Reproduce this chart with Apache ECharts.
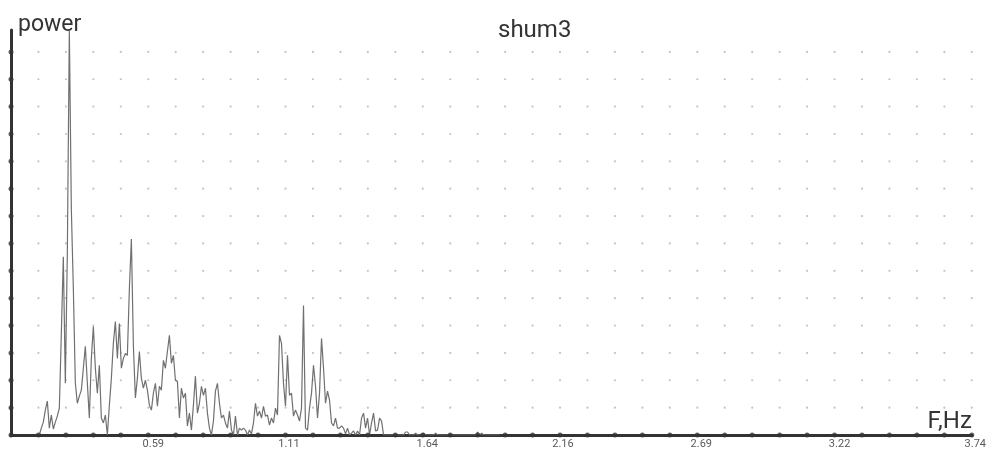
<!DOCTYPE html>
<html>
<head>
<meta charset="utf-8">
<title>shum3</title>
<script src="https://cdn.jsdelivr.net/npm/echarts@6/dist/echarts.min.js"></script>
<style>
  html, body { margin: 0; padding: 0; background: #ffffff; }
  #chart { width: 989px; height: 450px; }
</style>
</head>
<body>
<div id="chart"></div>
<script>
// Power spectrum of the "shum3" recording.
var chartTitle = 'shum3';
var xAxisName = 'F,Hz';
var yAxisName = 'power';

// Frequency axis range and the tick labels printed under it (Hz)
var freqMin = 0.06;
var freqMax = 3.742;
var tickValues = [0.59, 1.11, 1.64, 2.16, 2.69, 3.22, 3.74];

// Spectrum bins: first bin frequency and bin width (Hz)
var freqStart = 0.1685;
var freqStep = 0.00767;

// Power per bin (grid-row units)
var powerValues = [
  0, 0.25, 0.47, 0.91, 1.24, 0.25, 0.73, 0.22, 0.47, 0.69,
  0.98, 3.71, 6.51, 1.89, 6.62, 14.8, 8.25, 5.35, 1.89, 1.16,
  1.42, 1.64, 2.44, 3.24, 1.89, 0.62, 2.80, 3.96, 2.44, 1.53,
  2.55, 0.62, 0.44, 0.73, 0, 1.09, 2.07, 3.35, 4.15, 2.80,
  4.07, 2.44, 2.80, 2.98, 2.91, 5.35, 7.16, 3.27, 1.35, 2.07,
  3.05, 2.07, 1.71, 2.00, 1.64, 1.09, 0.91, 1.53, 1.89, 1.05,
  1.78, 1.64, 2.73, 2.44, 3.05, 3.64, 2.62, 2.91, 2.00, 1.96,
  0.62, 1.71, 1.35, 1.53, 0.33, 0.80, 0.18, 1.09, 2.15, 0.80,
  1.16, 1.78, 1.45, 1.71, 0.80, 0.25, 0, 0.51, 1.60, 1.89,
  1.16, 0.62, 0.73, 0.44, 0.25, 0.87, 0.18, 0, 0.69, 0,
  0.25, 0.18, 0.25, 0.18, 0, 0.18, 0.04, 0.44, 1.16, 0.69,
  0.87, 0.62, 1.05, 0.69, 0.73, 0.36, 0.62, 0.44, 0.98, 0.73,
  3.64, 3.35, 1.89, 1.05, 2.91, 1.45, 1.53, 0.69, 0.91, 0.73,
  0.51, 0.98, 4.73, 0.25, 0.18, 0.98, 1.53, 2.55, 1.78, 0.62,
  1.53, 3.53, 2.44, 1.16, 1.60, 1.27, 0.44, 0.33, 0.62, 0.25,
  0.25, 0.33, 0.25, 0.04, 0.25, 0, 0.07, 0.15, 0, 0.15,
  0, 0.62, 0.80, 0.25, 0.62, 0, 0.44, 0.80, 0.15, 0.18,
  0.62, 0.51, 0,
  0, 0, 0, 0, 0, 0, 0, 0, 0, 0,
  0.11, 0.11, 0, 0, 0, 0.07, 0, 0, 0, 0.07,
  0, 0, 0, 0, 0, 0.07, 0, 0, 0, 0,
  0, 0, 0, 0, 0, 0, 0, 0, 0, 0,
  0, 0, 0, 0, 0, 0, 0.11, 0, 0.07, 0,
  0, 0, 0, 0, 0, 0, 0, 0
];

// Dotted background grid: columns across, rows up, power axis top
var gridCols = 35;
var gridRows = 14;
var powerMax = 14.8;

var spectrum = powerValues.map(function (v, i) {
  return [freqStart + i * freqStep, v];
});

var gridDots = [];
for (var c = 1; c <= gridCols; c++) {
  for (var r = 1; r <= gridRows; r++) gridDots.push([c, r]);
}
var axisDots = [];
for (var c2 = 0; c2 <= gridCols; c2++) axisDots.push([c2, 0]);
for (var r2 = 1; r2 <= gridRows; r2++) axisDots.push([0, r2]);

var chart = echarts.init(document.getElementById('chart'), null, { renderer: 'canvas' });
chart.setOption({
  animation: false,
  backgroundColor: '#ffffff',
  title: {
    text: chartTitle,
    left: 498,
    top: 19,
    padding: 0,
    textStyle: { fontFamily: 'Roboto', fontWeight: 'normal', fontSize: 24, color: '#333333' }
  },
  grid: { left: 11, right: 16, top: 30, bottom: 12, containLabel: false },
  xAxis: [
    {
      type: 'value',
      min: freqMin,
      max: freqMax,
      name: xAxisName,
      nameLocation: 'end',
      nameGap: 0,
      nameTextStyle: {
        fontFamily: 'Roboto', fontSize: 24, color: '#333333',
        align: 'right', verticalAlign: 'bottom', padding: [0, 0, 1, 0]
      },
      axisLine: { show: true, lineStyle: { color: '#333333', width: 3 } },
      axisTick: { show: false },
      splitLine: { show: false },
      axisLabel: {
        customValues: tickValues,
        formatter: function (v) { return v.toFixed(2); },
        fontFamily: 'Roboto',
        fontSize: 11,
        color: '#5a5a5a',
        margin: 4,
        padding: [0, 0, 0, 8]
      }
    },
    {
      type: 'value',
      min: 0,
      max: gridCols,
      show: false
    }
  ],
  yAxis: [
    {
      type: 'value',
      min: 0,
      max: powerMax,
      name: yAxisName,
      nameLocation: 'end',
      nameGap: 0,
      nameTextStyle: {
        fontFamily: 'Roboto', fontSize: 23, color: '#333333',
        align: 'left', verticalAlign: 'bottom', padding: [0, 0, -7, 7]
      },
      axisLine: { show: true, lineStyle: { color: '#333333', width: 3 } },
      axisTick: { show: false },
      axisLabel: { show: false },
      splitLine: { show: false }
    }
  ],
  series: [
    {
      name: 'grid',
      type: 'scatter',
      xAxisIndex: 1,
      yAxisIndex: 0,
      data: gridDots,
      symbol: 'circle',
      symbolSize: 2.2,
      itemStyle: { color: '#b4b4b4' },
      silent: true,
      clip: false,
      z: 1
    },
    {
      name: 'spectrum',
      type: 'line',
      xAxisIndex: 0,
      yAxisIndex: 0,
      data: spectrum,
      showSymbol: false,
      symbol: 'none',
      lineStyle: { color: '#707070', width: 1.2 },
      clip: true,
      z: 3
    },
    {
      name: 'axis ticks',
      type: 'scatter',
      xAxisIndex: 1,
      yAxisIndex: 0,
      data: axisDots,
      symbol: 'circle',
      symbolSize: 5,
      itemStyle: { color: '#333333' },
      silent: true,
      clip: false,
      z: 4
    }
  ]
});
</script>
</body>
</html>
